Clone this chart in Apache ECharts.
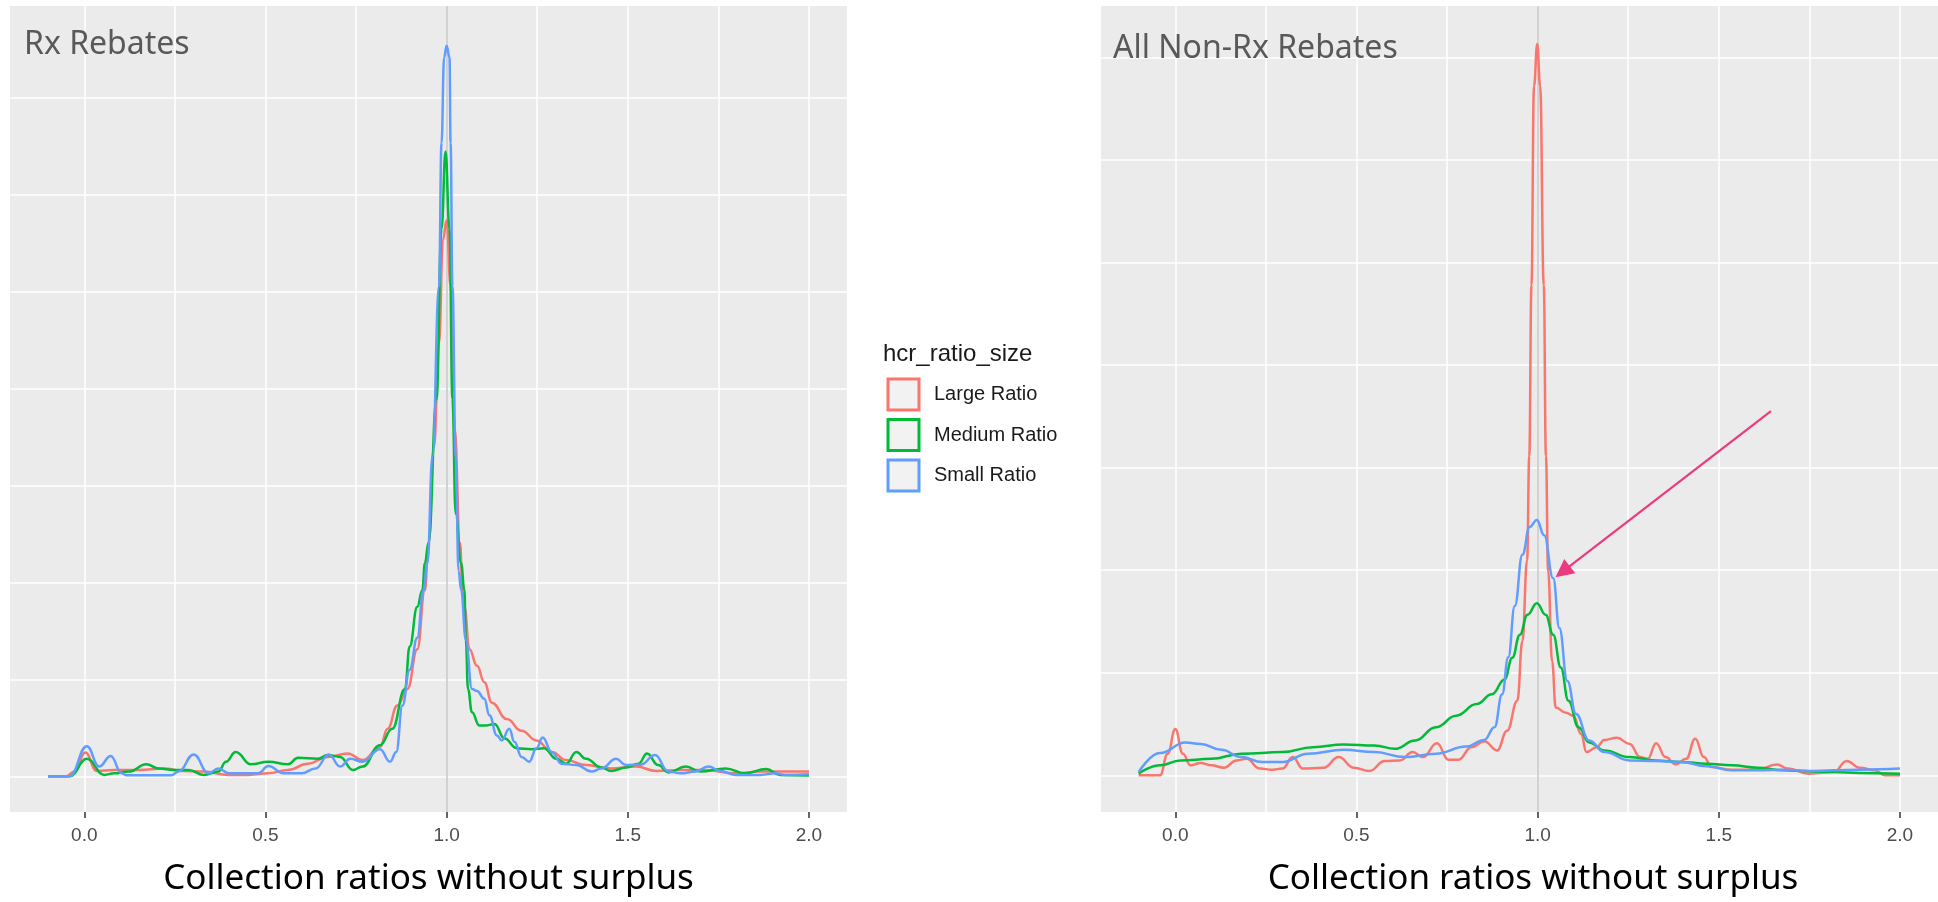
<!DOCTYPE html>
<html>
<head>
<meta charset="utf-8">
<script src="https://cdn.jsdelivr.net/npm/echarts@6/dist/echarts.min.js"></script>
<style>html,body{margin:0;padding:0;background:#fff}#c{width:1938px;height:902px}</style>
</head>
<body>
<div id="c"></div>
<script>
// ---------- data ----------
const seriesNames = ['Large Ratio', 'Medium Ratio', 'Small Ratio'];
const tickValues = [0, 0.5, 1, 1.5, 2];
const gridXValues = [0, 0.25, 0.5, 0.75, 1, 1.25, 1.5, 1.75, 2];
const gridYValues = [0, 1, 2, 3, 4, 5, 6, 7];

// Panel 1: Rx Rebates
const rxLargeX = [-0.10,-0.05,-0.027,0.003,0.034,0.082,0.151,0.22,0.274,0.329,0.398,0.453,0.508,0.562,0.617,0.672,0.727,0.768,0.816,0.837,0.864,0.892,0.919,0.94,0.95,0.965,0.979,0.99,1.0,1.011,1.022,1.037,1.044,1.049,1.063,1.084,1.104,1.125,1.166,1.207,1.248,1.29,1.33,1.385,1.454,1.523,1.578,1.646,1.715,1.797,1.866,1.934,2.0];
const rxLargeY = [0,0,0.05,0.245,0.055,0.065,0.065,0.08,0.055,0.048,0.014,0.014,0.03,0.065,0.13,0.2,0.235,0.167,0.30,0.49,0.73,0.90,1.31,1.92,2.4,3.4,4.47,5.54,5.74,5.06,3.59,2.41,1.9,1.75,1.31,1.14,0.97,0.76,0.59,0.47,0.37,0.25,0.167,0.116,0.08,0.10,0.055,0.065,0.065,0.03,0.048,0.048,0.048];

const rxMediumX = [-0.10,-0.04,0.007,0.055,0.082,0.123,0.171,0.206,0.247,0.288,0.329,0.37,0.391,0.418,0.46,0.508,0.562,0.59,0.645,0.672,0.706,0.741,0.768,0.816,0.85,0.885,0.898,0.919,0.933,0.94,0.95,0.972,0.986,0.997,1.008,1.016,1.025,1.04,1.049,1.053,1.059,1.07,1.09,1.111,1.132,1.16,1.193,1.235,1.269,1.303,1.33,1.358,1.385,1.427,1.454,1.495,1.53,1.553,1.584,1.612,1.66,1.70,1.77,1.824,1.882,1.92,2.0];
const rxMediumY = [0,0,0.18,0.014,0.03,0.048,0.123,0.08,0.065,0.065,0.014,0.048,0.15,0.25,0.123,0.15,0.123,0.19,0.18,0.22,0.2,0.065,0.10,0.32,0.49,0.90,1.34,1.75,1.92,2.2,2.41,3.89,5.65,6.45,5.65,3.89,2.71,2.2,1.925,1.41,0.9,0.66,0.525,0.525,0.54,0.39,0.29,0.28,0.29,0.18,0.13,0.25,0.18,0.09,0.055,0.09,0.13,0.235,0.115,0.04,0.10,0.048,0.08,0.03,0.075,0.014,0.007];

const rxSmallX = [-0.10,-0.04,0.007,0.041,0.073,0.103,0.117,0.24,0.26,0.302,0.343,0.37,0.40,0.48,0.508,0.55,0.60,0.638,0.675,0.706,0.734,0.768,0.816,0.844,0.861,0.878,0.898,0.919,0.936,0.947,0.961,0.979,0.986,0.993,1.0,1.008,1.011,1.016,1.025,1.033,1.040,1.053,1.07,1.084,1.104,1.118,1.139,1.152,1.173,1.187,1.207,1.228,1.248,1.265,1.29,1.317,1.358,1.40,1.427,1.468,1.495,1.536,1.575,1.612,1.646,1.687,1.722,1.756,1.797,1.866,1.907,1.934,2.0];
const rxSmallY = [0,0,0.31,0.10,0.21,0.03,0.01,0.01,0.05,0.225,0.03,0.08,0.03,0.03,0.106,0.03,0.03,0.08,0.225,0.10,0.18,0.15,0.28,0.15,0.25,0.73,1.1,1.43,1.92,2.2,3.30,5.06,6.54,7.42,7.54,7.42,6.54,5.06,3.30,2.12,1.925,1.41,0.90,0.88,0.80,0.63,0.42,0.37,0.49,0.355,0.20,0.15,0.29,0.40,0.25,0.13,0.115,0.048,0.08,0.18,0.115,0.12,0.22,0.05,0.03,0.048,0.10,0.055,0.014,0.014,0.03,0.014,0.02];

// Panel 2: All Non-Rx Rebates
const nrLargeX = [-0.101,-0.042,-0.021,0.0,0.021,0.042,0.07,0.099,0.134,0.169,0.197,0.233,0.268,0.296,0.324,0.352,0.409,0.451,0.493,0.536,0.578,0.62,0.655,0.684,0.722,0.754,0.782,0.817,0.853,0.888,0.916,0.944,0.958,0.971,0.977,0.983,0.99,0.999,1.007,1.017,1.023,1.029,1.04,1.05,1.078,1.099,1.12,1.135,1.163,1.184,1.219,1.254,1.283,1.304,1.327,1.353,1.381,1.41,1.435,1.459,1.48,1.536,1.607,1.66,1.691,1.748,1.818,1.853,1.889,1.931,1.959,2.0];
const nrLargeY = [0,0,0.21,0.45,0.21,0.097,0.12,0.097,0.074,0.145,0.16,0.065,0.055,0.065,0.177,0.065,0.074,0.177,0.074,0.042,0.139,0.145,0.226,0.177,0.313,0.152,0.152,0.274,0.332,0.242,0.435,0.726,1.306,2.1,3.11,4.78,6.72,7.13,6.72,4.78,3.11,1.99,1.11,0.66,0.61,0.58,0.40,0.226,0.274,0.345,0.365,0.306,0.177,0.16,0.313,0.177,0.106,0.16,0.355,0.177,0.08,0.055,0.055,0.106,0.065,0.016,0.032,0.139,0.074,0.048,0,0];

const nrMediumX = [-0.101,-0.042,0.014,0.099,0.183,0.296,0.38,0.465,0.55,0.606,0.662,0.719,0.775,0.832,0.874,0.909,0.93,0.951,0.972,0.998,1.022,1.043,1.064,1.085,1.113,1.142,1.184,1.254,1.325,1.395,1.466,1.536,1.607,1.677,1.748,1.818,1.889,2.0];
const nrMediumY = [0.016,0.097,0.145,0.16,0.21,0.226,0.274,0.30,0.29,0.258,0.339,0.468,0.58,0.694,0.79,0.935,1.145,1.37,1.565,1.677,1.565,1.37,1.05,0.726,0.468,0.32,0.242,0.177,0.145,0.13,0.113,0.097,0.074,0.048,0.039,0.032,0.023,0.016];

const nrSmallX = [-0.101,-0.042,0.028,0.07,0.127,0.183,0.24,0.296,0.366,0.465,0.55,0.634,0.719,0.803,0.853,0.881,0.902,0.919,0.937,0.958,0.978,0.998,1.018,1.043,1.06,1.082,1.106,1.142,1.184,1.254,1.325,1.395,1.466,1.536,1.607,1.677,1.748,1.818,1.889,2.0];
const nrSmallY = [0.032,0.216,0.32,0.306,0.248,0.177,0.13,0.13,0.21,0.248,0.226,0.177,0.21,0.28,0.345,0.468,0.79,1.15,1.65,2.15,2.42,2.49,2.34,1.92,1.435,0.92,0.597,0.339,0.226,0.145,0.139,0.13,0.087,0.048,0.048,0.055,0.042,0.048,0.055,0.065];

// annotation arrow (data coordinates of right panel)
const arrowFrom = [1.644, 3.55];
const arrowTo = [1.069, 1.985];

// ---------- styles ----------
const colors = ['#F8766D', '#00BA38', '#619CFF'];
const zip = (xs, ys) => xs.map((x, i) => [x, ys[i]]);

function gridSeries(idx) {
  const lines = [];
  gridXValues.forEach(v => lines.push({ xAxis: v, lineStyle: { color: '#FFFFFF', width: 1.5, type: 'solid' } }));
  gridYValues.forEach(v => lines.push({ yAxis: v, lineStyle: { color: '#FFFFFF', width: 1.5, type: 'solid' } }));
  lines.push({ xAxis: 1, lineStyle: { color: '#C4C4C4', width: 1.5, type: 'solid' } });
  return {
    type: 'line', name: 'grid' + idx, xAxisIndex: idx, yAxisIndex: idx, data: [],
    silent: true, z: 1,
    markLine: { silent: true, z: 1, symbol: ['none', 'none'], label: { show: false }, emphasis: { disabled: true }, animation: false, data: lines }
  };
}

function densitySeries(idx, k, xs, ys) {
  return {
    type: 'line', name: seriesNames[k], xAxisIndex: idx, yAxisIndex: idx,
    data: zip(xs, ys), showSymbol: false, symbol: 'none',
    smooth: 0.45, smoothMonotone: 'x', z: 3,
    lineStyle: { color: colors[k], width: 2.5 }, itemStyle: { color: colors[k] },
    emphasis: { disabled: true }
  };
}

function xAxisDef(idx, pad) {
  return {
    type: 'value', gridIndex: idx, min: -0.205, max: 2.105,
    splitLine: { show: false },
    axisLine: { show: false, onZero: false },
    axisTick: { show: true, length: 6, customValues: tickValues, lineStyle: { color: '#333333', width: 1.5 } },
    axisLabel: { customValues: tickValues, margin: 14, color: '#4D4D4D', fontFamily: 'Liberation Sans', fontSize: 19, formatter: v => v.toFixed(1) },
    name: 'Collection ratios without surplus', nameLocation: 'middle', nameGap: 50,
    nameTextStyle: { color: '#000000', fontFamily: 'Noto Sans', fontSize: 35, padding: [0, 0, 0, pad] }
  };
}

const option = {
  animation: false,
  backgroundColor: '#FFFFFF',
  title: [
    { text: 'Rx Rebates', left: 24, top: 29, padding: 0, textStyle: { fontFamily: 'Noto Sans', fontSize: 32, fontWeight: 'normal', color: '#595959' } },
    { text: 'All Non-Rx Rebates', left: 1113, top: 33, padding: 0, textStyle: { fontFamily: 'Noto Sans', fontSize: 32, fontWeight: 'normal', color: '#595959' } },
    { text: 'hcr_ratio_size', left: 883, top: 342, padding: 0, textStyle: { fontFamily: 'Liberation Sans', fontSize: 24, fontWeight: 'normal', color: '#1A1A1A' } }
  ],
  legend: {
    orient: 'vertical', left: 886.5, top: 377.5, padding: 0,
    itemWidth: 31, itemHeight: 31, itemGap: 6.5, icon: 'rect', selectedMode: false,
    data: seriesNames.map((n, i) => ({ name: n, icon: 'rect', itemStyle: { color: '#F2F2F2', borderColor: colors[i], borderWidth: 3 } })),
    textStyle: { fontFamily: 'Liberation Sans', fontSize: 20, color: '#1A1A1A', padding: [0, 0, 0, 10] }
  },
  grid: [
    { left: 10, top: 6, width: 837, height: 812, show: true, backgroundColor: '#EBEBEB', borderWidth: 0 },
    { left: 1101, top: 6, width: 837, height: 812, show: true, backgroundColor: '#EBEBEB', borderWidth: 0 }
  ],
  xAxis: [xAxisDef(0, 0), xAxisDef(1, 27)],
  yAxis: [
    { type: 'value', gridIndex: 0, min: -0.369, max: 7.951, show: false, splitLine: { show: false } },
    { type: 'value', gridIndex: 1, min: -0.358, max: 7.50, show: false, splitLine: { show: false } }
  ],
  series: [
    gridSeries(0),
    densitySeries(0, 0, rxLargeX, rxLargeY),
    densitySeries(0, 1, rxMediumX, rxMediumY),
    densitySeries(0, 2, rxSmallX, rxSmallY),
    gridSeries(1),
    densitySeries(1, 0, nrLargeX, nrLargeY),
    densitySeries(1, 1, nrMediumX, nrMediumY),
    densitySeries(1, 2, nrSmallX, nrSmallY),
    {
      type: 'line', name: 'arrow', xAxisIndex: 1, yAxisIndex: 1, data: [], silent: true, z: 10,
      markLine: {
        silent: true, z: 10, symbol: ['none', 'triangle'], symbolSize: 18, label: { show: false },
        emphasis: { disabled: true }, animation: false,
        lineStyle: { color: '#EC3A80', width: 2.2, type: 'solid' },
        data: [[{ coord: arrowFrom }, { coord: arrowTo }]]
      }
    }
  ]
};

const chart = echarts.init(document.getElementById('c'));
chart.setOption(option);
</script>
</body>
</html>
